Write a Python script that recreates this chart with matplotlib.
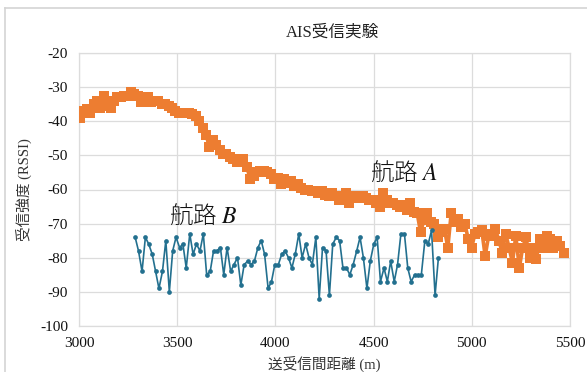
import matplotlib
matplotlib.use("Agg")
import matplotlib.pyplot as plt
from matplotlib.lines import Line2D

plt.rcParams['font.family'] = ['Liberation Serif', 'Noto Sans CJK JP', 'DejaVu Sans']
plt.rcParams['axes.unicode_minus'] = False
plt.rcParams['mathtext.fontset'] = 'stix'

title = "AIS受信実験"
xlabel = "送受信間距離 (m)"
ylabel = "受信強度 (RSSI)"
xticks = [3000, 3500, 4000, 4500, 5000, 5500]
yticks = [-20, -30, -40, -50, -60, -70, -80, -90, -100]

route_a_x = [3005, 3022, 3040, 3057, 3074, 3092, 3109, 3126, 3144, 3161, 3178, 3196, 3213, 3230, 3248,
             3265, 3282, 3300, 3317, 3334, 3352, 3369, 3386, 3404, 3421, 3439, 3456, 3473, 3491, 3508,
             3525, 3543, 3560, 3577, 3595, 3612, 3629, 3647, 3664, 3681, 3699, 3716, 3733, 3751, 3768,
             3785, 3803, 3820, 3837, 3855, 3872, 3889, 3907, 3924, 3941, 3959, 3976, 3993, 4011, 4028,
             4045, 4063, 4080, 4097, 4115, 4132, 4149, 4167, 4184, 4201, 4219, 4236, 4253, 4271, 4288,
             4305, 4323, 4340, 4357, 4375, 4392, 4410, 4427, 4444, 4462, 4479, 4496, 4514, 4531, 4548,
             4566, 4583, 4600, 4618, 4635, 4652, 4670, 4687, 4704, 4722, 4739, 4756, 4774, 4791, 4808,
             4826, 4843, 4860, 4878, 4895, 4912, 4930, 4947, 4964, 4982, 4999, 5016, 5034, 5051, 5068,
             5086, 5103, 5120, 5138, 5155, 5172, 5190, 5207, 5224, 5242, 5259, 5276, 5294, 5311, 5328,
             5346, 5363, 5381, 5398, 5415, 5433, 5450, 5467]
route_a_y = [-39, -37, -36.5, -37.5, -35, -34, -36, -32.5, -35.5, -36, -34, -33, -33, -32.5, -32.5,
             -31.5, -32, -32.5, -34.5, -33, -33, -34.5, -34, -34, -35, -35, -35.5, -36, -37, -37.5,
             -37.5, -37.5, -37.5, -38, -38.5, -40, -42, -44, -47.5, -45.5, -47, -48.5, -49.5, -49.5, -50.5,
             -51, -52, -51.5, -51, -53.5, -57, -56, -55, -54.5, -54.5, -55, -55.5, -57, -56.5, -58.5,
             -57, -58, -57.5, -59, -58.5, -59.5, -60, -60, -60.5, -60.5, -61, -60.5, -61.5, -62, -61,
             -62, -63, -62, -61, -64, -62.5, -62, -62.5, -62, -62.5, -63, -63, -64, -65, -61,
             -63, -64, -64, -64.5, -65, -64.5, -66, -64, -66.5, -67, -72.5, -69, -67, -69.5, -70,
             -74, -72.5, -71.5, -77, -67, -69.5, -68.5, -71, -70, -74.5, -77, -73, -72.5, -72, -79.5,
             -73.5, -73, -71.5, -75, -78.5, -73, -77, -81.5, -73.5, -83, -77, -74, -80, -77, -80.5,
             -74.5, -77, -73.5, -74.5, -77, -75, -76.5, -78.5]

route_b_x = [3286, 3303, 3321, 3338, 3355, 3373, 3390, 3407, 3425, 3442, 3460, 3477, 3494, 3512, 3529,
             3546, 3564, 3581, 3598, 3616, 3633, 3650, 3668, 3685, 3702, 3720, 3737, 3754, 3772, 3789,
             3807, 3824, 3841, 3859, 3876, 3893, 3911, 3928, 3945, 3963, 3980, 3997, 4015, 4032, 4049,
             4067, 4084, 4101, 4119, 4136, 4154, 4171, 4188, 4206, 4223, 4240, 4258, 4275, 4292, 4310,
             4327, 4344, 4362, 4379, 4396, 4414, 4431, 4448, 4466, 4483, 4501, 4518, 4535, 4553, 4570,
             4587, 4605, 4622, 4639, 4657, 4674, 4691, 4709, 4726, 4743, 4761, 4778, 4795, 4813, 4830]
route_b_y = [-74, -78, -84, -74, -76, -79, -84, -89, -84, -75, -90, -78, -74, -77, -76,
             -83, -73, -79, -76, -78, -73, -85, -84, -78, -78, -77, -85, -77, -84, -82,
             -80, -88, -82, -81, -82, -81, -77, -75, -79, -89, -87, -82, -82, -79, -78,
             -80, -83, -79, -73, -80, -76, -80, -82, -74, -92, -77, -78, -91, -76, -74,
             -75, -83, -83, -85, -82, -78, -74, -80, -89, -81, -76, -74, -87, -83, -87,
             -81, -87, -82, -73, -73, -83, -87, -85, -85, -85, -75, -76, -72, -91, -80]

label_a = "航路 $A$"
label_b = "航路 $B$"

W, H = 587, 372
fig = plt.figure(figsize=(W / 100, H / 100), dpi=100)
fig.patch.set_facecolor('white')

# outer frame of the chart box
fig.add_artist(Line2D([5 / W, 5 / W], [0, 1 - 8 / H], transform=fig.transFigure, color='#d4d4d4', lw=1.2))
fig.add_artist(Line2D([5 / W, 1], [1 - 8 / H, 1 - 8 / H], transform=fig.transFigure, color='#d4d4d4', lw=1.2))

ax = fig.add_axes([79 / W, 1 - 326 / H, (570 - 79) / W, (326 - 53) / H])
ax.set_xlim(3000, 5500)
ax.set_ylim(-100, -20)
ax.set_xticks(xticks)
ax.set_yticks(yticks)
ax.grid(True, color='#dcdcdc', lw=0.9)
ax.set_axisbelow(True)
for s in ax.spines.values():
    s.set_color('#dcdcdc')
    s.set_linewidth(0.9)
ax.tick_params(length=0, labelsize=11, colors='#111111', pad=8)

ax.plot(route_a_x, route_a_y, color='#ED7D31', lw=2.6, marker='s', markersize=6.5,
        markeredgewidth=0, zorder=3)
ax.plot(route_b_x, route_b_y, color='#23708f', lw=1.2, marker='o', markersize=3.4,
        markeredgewidth=0, zorder=4)

ax.text(4652, -55.2, label_a, fontsize=17, ha='center', va='center', color='#111111',
        family=['Noto Sans CJK JP', 'DejaVu Serif'], fontweight='light', zorder=5)
ax.text(3632, -67.8, label_b, fontsize=17, ha='center', va='center', color='#111111',
        family=['Noto Sans CJK JP', 'DejaVu Serif'], fontweight='light', zorder=5)

fig.text(332 / W, 1 - 33 / H, title, fontsize=12, ha='center', va='center', color='#222222')
ax.set_xlabel(xlabel, fontsize=10.5, color='#333333', labelpad=4)
ax.set_ylabel(ylabel, fontsize=10.5, color='#333333', labelpad=6)

fig.savefig('out.png', dpi=100, facecolor='white')
